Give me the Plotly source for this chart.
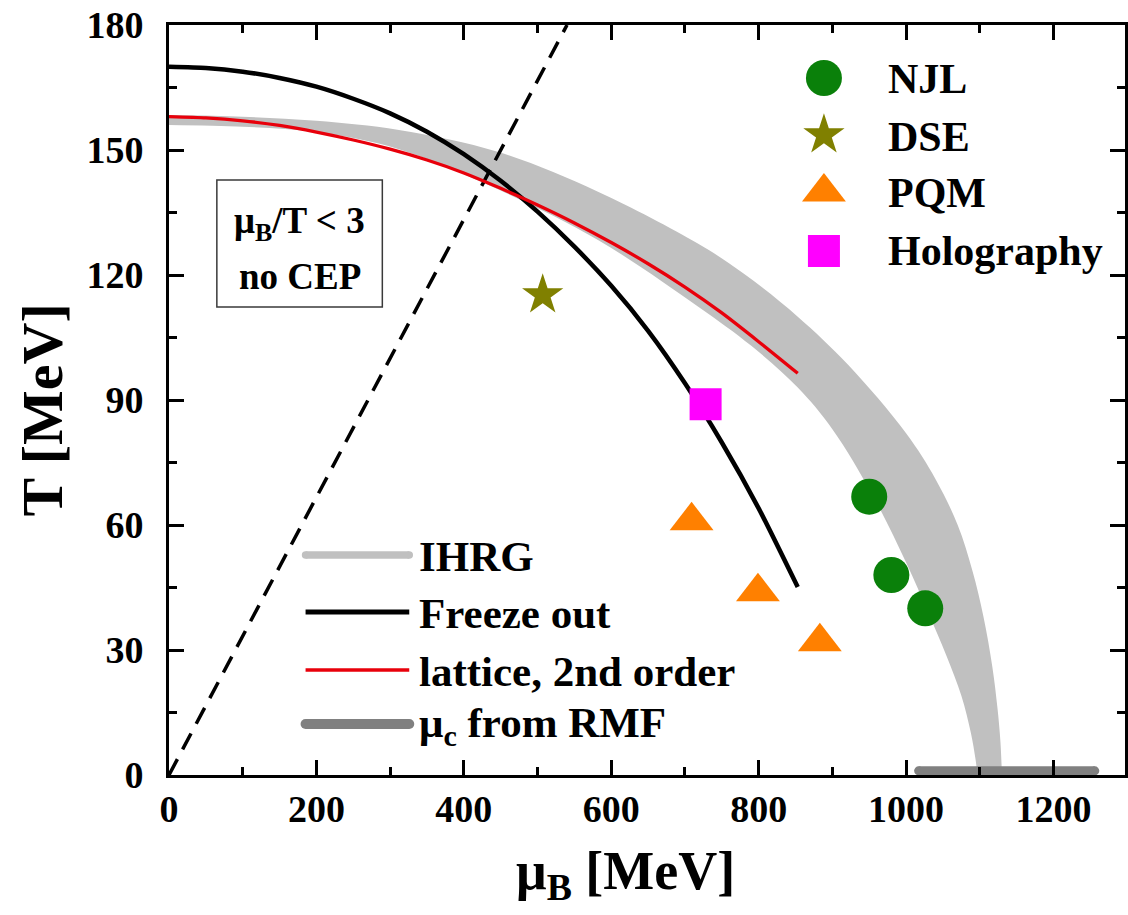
import plotly.graph_objects as go

# ---------------- data (mu_B and T in MeV) ----------------
# IHRG band: outer (upper/right) and inner (lower/left) edges
ihrg_outer_mu = [0, 100, 200, 312, 447, 582, 718, 780, 853, 921, 1000, 1040, 1070, 1090, 1105, 1117, 1124, 1128, 1130]
ihrg_outer_T = [158.4, 158.0, 157.0, 154.8, 149.5, 140.0, 127.5, 120.3, 110.0, 98.5, 82.0, 71.0, 60.0, 49.0, 38.0, 26.0, 16.0, 8.0, 0.0]
ihrg_inner_mu = [0, 100, 200, 312, 447, 582, 718, 790, 853, 900, 955, 1000, 1030, 1055, 1075, 1088, 1094, 1097]
ihrg_inner_T = [156.0, 155.6, 154.3, 150.2, 140.5, 128.4, 112.4, 103.0, 93.0, 83.0, 67.0, 51.0, 39.0, 28.5, 19.0, 10.0, 4.0, 0.0]

# chemical freeze-out curve
freeze_mu = [0, 50, 100, 150, 200, 250, 300, 350, 400, 450, 500, 550, 600, 650, 700, 750, 800, 853]
freeze_T = [170.0, 169.7, 168.8, 167.3, 165.2, 162.3, 158.8, 154.4, 149.0, 142.6, 135.2, 126.8,
            117.4, 106.6, 94.0, 79.8, 64.0, 45.1]

# lattice QCD, 2nd order expansion
lattice_mu = [0, 50, 100, 150, 200, 250, 300, 350, 400, 450, 500, 550, 600, 650, 700, 750, 800, 853]
lattice_T = [158.0, 157.7, 157.0, 155.9, 154.3, 152.4, 150.2, 147.6, 144.5, 140.8, 136.8, 132.5,
             127.8, 122.7, 117.1, 110.9, 104.0, 96.4]

# mu_B / T = 3 boundary
mu_over_T = 3
ratio_mu = [0, 540]

# critical chemical potential from RMF (on the T = 0 axis)
rmf_mu = [1017, 1256]
rmf_T = [1.0, 1.0]

# critical end point predictions
njl_mu = [950, 980, 1026]
njl_T = [66.8, 48.0, 40.0]
dse_mu = [507]
dse_T = [115.2]
pqm_mu = [709, 799, 883]
pqm_T = [61.0, 44.0, 32.0]
holo_mu = [728]
holo_T = [89.0]

marker_labels = ["NJL", "DSE", "PQM", "Holography"]
line_labels = ["IHRG", "Freeze out", "lattice, 2nd order", "μ<sub>c</sub> from RMF"]

x_ticks = [0, 200, 400, 600, 800, 1000, 1200]
y_ticks = [0, 30, 60, 90, 120, 150, 180]

# ---------------- layout geometry (pixels) ----------------
W_FIG, H_FIG = 1128, 915
L, R, TOP, BOT = 169, 1128, 25, 775
FONT = "Liberation Serif"
BAND = "#c0c0c0"
RED = "#e8000b"


def px(x):
    return (x - L) / (R - L)


def py(y):
    return (BOT - y) / (BOT - TOP)


fig = go.Figure()

# IHRG band: inner edge (invisible) then outer edge filled down to it
fig.add_trace(go.Scatter(x=ihrg_inner_mu, y=ihrg_inner_T, mode="lines",
                         line=dict(width=0, color=BAND, shape="spline", smoothing=1.0),
                         hoverinfo="skip", showlegend=False))
fig.add_trace(go.Scatter(x=ihrg_outer_mu, y=ihrg_outer_T, mode="lines", fill="tonexty",
                         fillcolor=BAND, line=dict(width=0, color=BAND, shape="spline", smoothing=1.0),
                         hoverinfo="skip", showlegend=False))

# mu_B/T = 3 dashed line
fig.add_trace(go.Scatter(x=ratio_mu, y=[m / mu_over_T for m in ratio_mu], mode="lines",
                         line=dict(color="black", width=3.5, dash="18px,11px"),
                         hoverinfo="skip", showlegend=False))

# freeze-out and lattice curves
fig.add_trace(go.Scatter(x=freeze_mu, y=freeze_T, mode="lines",
                         line=dict(color="black", width=4.5, shape="spline", smoothing=0.6),
                         hoverinfo="skip", showlegend=False))
fig.add_trace(go.Scatter(x=lattice_mu, y=lattice_T, mode="lines",
                         line=dict(color=RED, width=3.3, shape="spline", smoothing=0.6),
                         hoverinfo="skip", showlegend=False))

# RMF critical chemical potential bar (round ends)
fig.add_trace(go.Scatter(x=rmf_mu, y=rmf_T, mode="lines+markers",
                         line=dict(color="#808080", width=9),
                         marker=dict(color="#808080", size=9, line=dict(width=0)),
                         hoverinfo="skip", showlegend=False, cliponaxis=False))

# model predictions
fig.add_trace(go.Scatter(x=njl_mu, y=njl_T, mode="markers",
                         marker=dict(symbol="circle", size=36, color="#0a800a", line=dict(width=0)),
                         hoverinfo="skip", showlegend=False))
fig.add_trace(go.Scatter(x=dse_mu, y=dse_T, mode="markers",
                         marker=dict(symbol="star", size=31, color="#808000", line=dict(width=0)),
                         hoverinfo="skip", showlegend=False))
fig.add_trace(go.Scatter(x=pqm_mu, y=pqm_T, mode="markers",
                         marker=dict(symbol="triangle-up", size=38, color="#ff8000", line=dict(width=0)),
                         hoverinfo="skip", showlegend=False))
fig.add_trace(go.Scatter(x=holo_mu, y=holo_T, mode="markers",
                         marker=dict(symbol="square", size=32, color="#ff00ff", line=dict(width=0)),
                         hoverinfo="skip", showlegend=False))

# ---------------- hand-placed legends on a pixel overlay ----------------
sym_styles = [
    dict(symbol="circle", size=36, color="#0a800a"),
    dict(symbol="star", size=31, color="#808000"),
    dict(symbol="triangle-up", size=38, color="#ff8000"),
    dict(symbol="square", size=32, color="#ff00ff"),
]
sym_rows = [78, 135, 192, 251]
for style, row in zip(sym_styles, sym_rows):
    fig.add_trace(go.Scatter(x=[826], y=[row], xaxis="x2", yaxis="y2", mode="markers",
                             marker=dict(line=dict(width=0), **style),
                             hoverinfo="skip", showlegend=False))

line_styles = [
    dict(color=BAND, width=7.5),
    dict(color="black", width=5),
    dict(color=RED, width=3.5),
    dict(color="#808080", width=10),
]
line_rows = [555, 612, 670, 724]
for i, (style, row) in enumerate(zip(line_styles, line_rows)):
    fig.add_trace(go.Scatter(x=[306, 410], y=[row, row], xaxis="x2", yaxis="y2",
                             mode="lines+markers" if i in (0, 3) else "lines",
                             line=style,
                             marker=dict(color=style["color"], size=style["width"], line=dict(width=0)),
                             hoverinfo="skip", showlegend=False))

annotations = []
for label, row in zip(marker_labels, [79, 137, 193, 251]):
    annotations.append(dict(text=label, x=px(888), y=py(row), xref="paper", yref="paper",
                            xanchor="left", yanchor="middle", showarrow=False,
                            font=dict(family=FONT, size=42, color="black", weight="bold")))
for label, row in zip(line_labels, [556, 613, 671, 726]):
    annotations.append(dict(text=label, x=px(418), y=py(row), xref="paper", yref="paper",
                            xanchor="left", yanchor="middle", showarrow=False,
                            font=dict(family=FONT, size=43, color="black", weight="bold")))

# text box
annotations.append(dict(text="μ<sub>B</sub>/T &lt; 3", x=px(300), y=py(224), xref="paper", yref="paper",
                        xanchor="center", yanchor="middle", showarrow=False,
                        font=dict(family=FONT, size=37, color="black", weight="bold")))
annotations.append(dict(text="no CEP", x=px(300), y=py(276), xref="paper", yref="paper",
                        xanchor="center", yanchor="middle", showarrow=False,
                        font=dict(family=FONT, size=37, color="black", weight="bold")))

# axis titles
annotations.append(dict(text="μ<sub>B</sub> [MeV]", x=px(627), y=py(874), xref="paper", yref="paper",
                        xanchor="center", yanchor="middle", showarrow=False,
                        font=dict(family=FONT, size=54, color="black", weight="bold")))
annotations.append(dict(text="T [MeV]", x=px(42), y=py(410), xref="paper", yref="paper",
                        xanchor="center", yanchor="middle", showarrow=False, textangle=-90,
                        font=dict(family=FONT, size=58, color="black", weight="bold")))

shapes = [dict(type="rect", xref="paper", yref="paper",
               x0=px(217), x1=px(383), y0=py(307), y1=py(180),
               line=dict(color="#3a3a3a", width=1.5), fillcolor="rgba(0,0,0,0)")]

axis_common = dict(
    showgrid=False, zeroline=False, showline=True, linecolor="black", linewidth=3,
    mirror="ticks", ticks="inside", ticklen=15, tickwidth=3, tickcolor="black",
    tickfont=dict(family=FONT, size=38, color="black", weight="bold"),
)

fig.update_layout(
    width=W_FIG, height=H_FIG,
    margin=dict(l=L, r=W_FIG - R, t=TOP, b=H_FIG - BOT, pad=0),
    paper_bgcolor="white", plot_bgcolor="white",
    showlegend=False,
    font=dict(family=FONT, color="black"),
    xaxis=dict(range=[0, (R - L) / 0.7394], tickvals=x_ticks, ticktext=[str(v) for v in x_ticks],
               ticklabelstandoff=-2,
               minor=dict(dtick=100, tick0=0, ticks="inside", ticklen=8, tickwidth=3, tickcolor="black"),
               **axis_common),
    yaxis=dict(range=[0, 180], tickvals=y_ticks, ticktext=[str(v) for v in y_ticks],
               ticklabelstandoff=15,
               minor=dict(dtick=15, tick0=0, ticks="inside", ticklen=8, tickwidth=3, tickcolor="black"),
               **axis_common),
    xaxis2=dict(overlaying="x", anchor="y2", range=[L, R], visible=False),
    yaxis2=dict(overlaying="y", anchor="x2", range=[BOT, TOP], visible=False),
    annotations=annotations,
    shapes=shapes,
)

fig.write_html("out.html")
